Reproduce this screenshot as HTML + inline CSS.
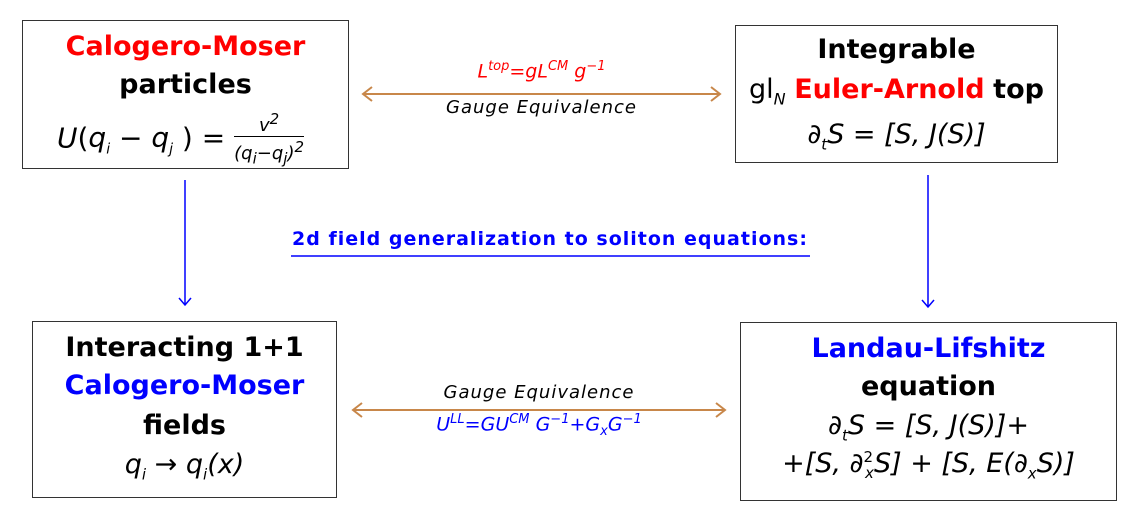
<!DOCTYPE html>
<html><head><meta charset="utf-8"><style>
body{margin:0;width:1145px;height:528px;background:#fff;position:relative;overflow:hidden;font-family:"DejaVu Sans","Liberation Sans",sans-serif;}
.box{position:absolute;border:1.5px solid #333;box-sizing:border-box;}
.t{position:absolute;left:0;right:0;text-align:center;white-space:nowrap;}
.b{font-weight:bold;font-size:27px;}
.m{font-style:italic;font-size:27px;}
.red{color:#f00}.blue{color:#00f}
</style></head><body>
<div class="box" style="left:22px;top:20px;width:327px;height:149px">
 <div class="t b red" style="top:10px">Calogero-Moser</div>
 <div class="t b" style="top:48px">particles</div>
 <div class="t" style="top:88px;font-size:28px;left:-10px"><i>U</i>(<i>q<sub style="font-size:14px">i</sub></i> − <i>q<sub style="font-size:14px">j</sub></i> ) = <span style="display:inline-block;vertical-align:middle;text-align:center;font-size:18px;font-style:italic;line-height:21px"><span style="display:block;border-bottom:1.5px solid #000">v<sup>2</sup></span><span style="display:block">(q<sub>i</sub>−q<sub>j</sub>)<sup>2</sup></span></span></div>
</div>
<div class="box" style="left:735px;top:25px;width:323px;height:138px">
 <div class="t b" style="top:8px">Integrable</div>
 <div class="t" style="top:48px;font-size:27px">gl<sub style="font-size:16px;font-style:italic">N</sub> <b class="red">Euler-Arnold</b> <b>top</b></div>
 <div class="t m" style="top:93px">∂<sub style="font-size:15px">t</sub>S = [S, J(S)]</div>
</div>
<div class="box" style="left:32px;top:321px;width:305px;height:177px">
 <div class="t b" style="top:10px">Interacting 1+1</div>
 <div class="t b blue" style="top:48px">Calogero-Moser</div>
 <div class="t b" style="top:88px">fields</div>
 <div class="t m" style="top:127px">q<sub style="font-size:15px">i</sub> → q<sub style="font-size:15px">i</sub>(x)</div>
</div>
<div class="box" style="left:740px;top:322px;width:377px;height:179px">
 <div class="t b blue" style="top:10px">Landau-Lifshitz</div>
 <div class="t b" style="top:48px">equation</div>
 <div class="t m" style="top:87px">∂<sub style="font-size:15px">t</sub>S = [S, J(S)]+</div>
 <div class="t m" style="top:125px">+[S, ∂<sup style="font-size:15px;font-style:normal">2</sup><sub style="font-size:15px;margin-left:-8px">x</sub>S] + [S, E(∂<sub style="font-size:15px">x</sub>S)]</div>
</div>
<svg width="1145" height="528" style="position:absolute;left:0;top:0">
 <g stroke="#c8874a" stroke-width="2" fill="none">
  <line x1="363" y1="94" x2="720" y2="94"/><path d="M372 87 L363 94 L372 101 M711 87 L720 94 L711 101"/>
  <line x1="353" y1="410" x2="725" y2="410"/><path d="M362 403 L353 410 L362 417 M716 403 L725 410 L716 417"/>
 </g>
 <g stroke="#00f" stroke-width="1.5" fill="none">
  <line x1="185" y1="180" x2="185" y2="305"/><path d="M179 298 L185 305 L191 298"/>
  <line x1="928" y1="175" x2="928" y2="307"/><path d="M922 300 L928 307 L934 300"/>
  <line x1="291" y1="256" x2="810" y2="256" stroke-width="1.5"/>
 </g>
</svg>
<div style="position:absolute;left:363px;width:357px;top:59px;text-align:center;color:#f00;font-style:italic;font-size:19px">L<sup style="font-size:13px">top</sup>=gL<sup style="font-size:13px">CM</sup> g<sup style="font-size:13px">−1</sup></div>
<div style="position:absolute;left:363px;width:357px;top:97px;text-align:center;font-style:italic;font-size:18px;letter-spacing:1px">Gauge Equivalence</div>
<div style="position:absolute;left:290px;width:520px;top:228px;text-align:center;color:#00f;font-weight:bold;font-size:19px;letter-spacing:1px">2d field generalization to soliton equations:</div>
<div style="position:absolute;left:353px;width:372px;top:382px;text-align:center;font-style:italic;font-size:18px;letter-spacing:1px">Gauge Equivalence</div>
<div style="position:absolute;left:353px;width:372px;top:412px;text-align:center;color:#00f;font-style:italic;font-size:19px">U<sup style="font-size:13px">LL</sup>=GU<sup style="font-size:13px">CM</sup> G<sup style="font-size:13px">−1</sup>+G<sub style="font-size:13px">x</sub>G<sup style="font-size:13px">−1</sup></div>
</body></html>
